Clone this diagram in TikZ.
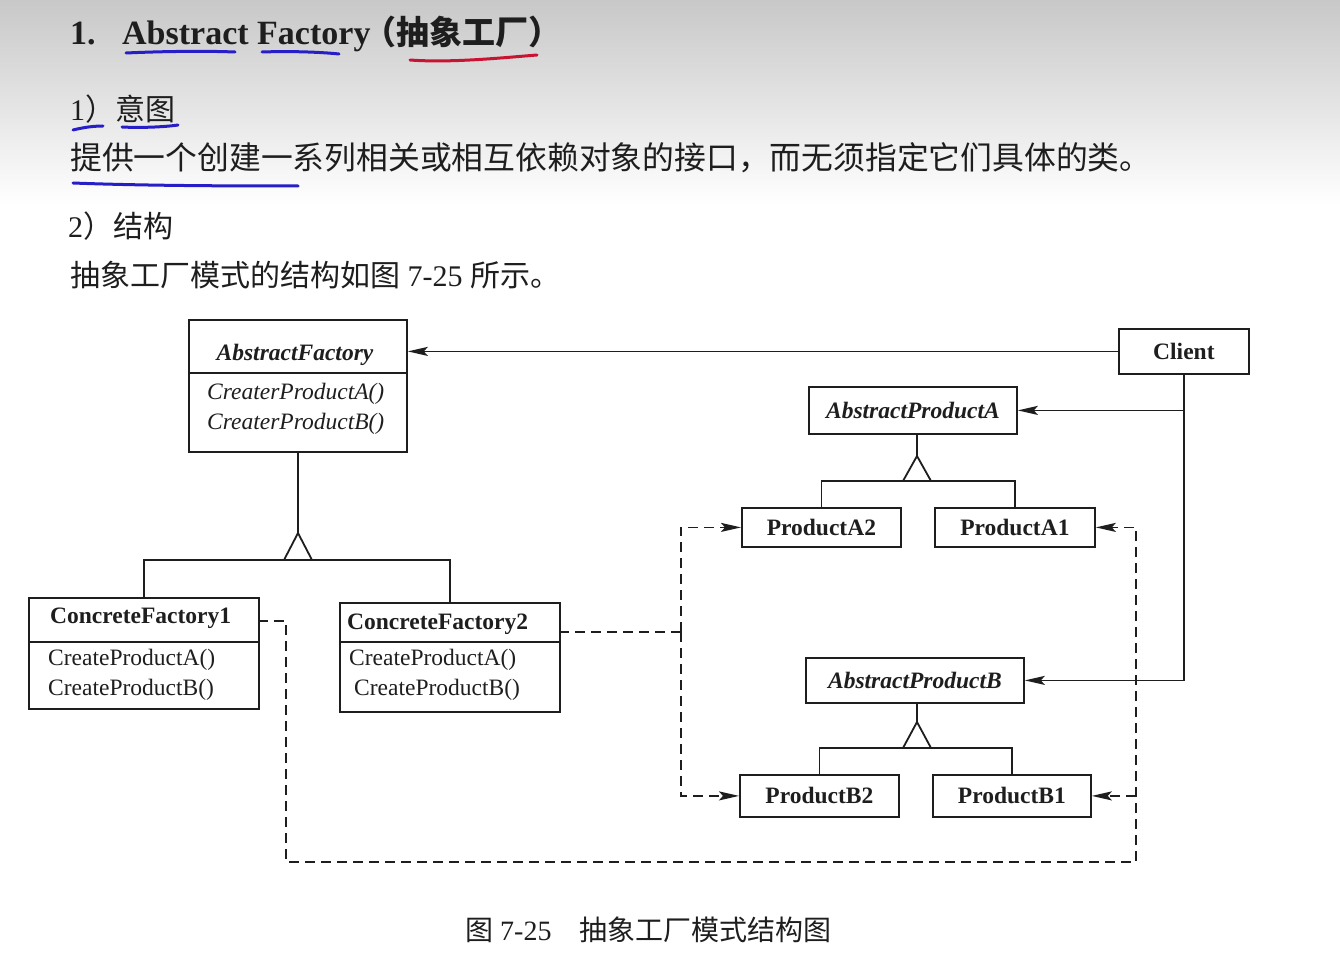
\documentclass[tikz,border=0pt]{standalone}
\usepackage{fontspec}
\setmainfont{Liberation Serif}
\newfontfamily\cjk{Noto Sans CJK SC}
\usetikzlibrary{arrows.meta}
\definecolor{penblue}{RGB}{40,30,200}
\definecolor{penred}{RGB}{200,20,50}
\definecolor{ink}{RGB}{30,30,30}
\tikzset{
  ln/.style={line width=1.8pt, draw=ink},
  dsh/.style={ln, dash pattern=on 10pt off 6pt},
  tip/.style={-{Stealth[length=20pt,width=9pt,inset=4pt]}},
  box/.style={draw=ink, line width=1.8pt, inner sep=0pt, anchor=north west, fill=white, text=ink},
  bt/.style={font=\fontsize{23.5}{26}\selectfont\bfseries},
  bit/.style={font=\fontsize{23.5}{26}\selectfont\bfseries\itshape, text=ink},
  itx/.style={font=\fontsize{23.5}{26}\selectfont\itshape, anchor=base west, inner sep=0pt, text=ink},
  rmx/.style={font=\fontsize{23.5}{26}\selectfont, anchor=base west, inner sep=0pt, text=ink},
  bodytxt/.style={anchor=base west, inner sep=0pt, text=ink},
  hand/.style={line width=3pt, line cap=round},
}
\begin{document}
\begin{tikzpicture}[x=1pt,y=-1pt]
\useasboundingbox (0,0) rectangle (1340,976);
\fill[white] (0,0) rectangle (1340,976);
\shade[top color={rgb,255:red,200;green,200;blue,200}, bottom color=white] (0,0) rectangle (1340,205);

% ---- header text ----
\node[bodytxt, font=\fontsize{34}{38}\selectfont\bfseries] (t1) at (70,45) {1.};
\node[bodytxt, font=\fontsize{34}{38}\selectfont\bfseries] (t2) at (122,45) {Abstract Factory};
\node[bodytxt, font=\fontsize{33}{38}\selectfont\cjk\bfseries] (t3) at (363,45) {（抽象工厂）};
\node[bodytxt, font=\fontsize{30}{34}\selectfont] (s1) at (70,121) {1{\cjk ）意图}};
\node[bodytxt, font=\fontsize{31.8}{34}\selectfont\cjk] (s1t) at (70,170) {提供一个创建一系列相关或相互依赖对象的接口，而无须指定它们具体的类。};
\node[bodytxt, font=\fontsize{30}{34}\selectfont] (s2) at (68,238) {2{\cjk ）结构}};
\node[bodytxt, font=\fontsize{30}{34}\selectfont] (s2t) at (70,286) {{\cjk 抽象工厂模式的结构如图}~7-25~{\cjk 所示。}};
\node[bodytxt, font=\fontsize{28}{32}\selectfont] (cap) at (465,940) {{\cjk 图}~7-25\hspace{28pt}{\cjk 抽象工厂模式结构图}};

% ---- hand annotations ----
\draw[hand, penblue] (126,53) .. controls (170,51) and (210,51) .. (235,52);
\draw[hand, penblue] (262,52) .. controls (290,51) and (320,52) .. (339,54);
\draw[hand, penred] (410,60) .. controls (450,63) and (500,58) .. (537,55);
\draw[hand, penblue] (73,130) .. controls (85,127) and (95,126) .. (103,126);
\draw[hand, penblue] (122,127) .. controls (140,128) and (165,127) .. (178,125);
\draw[hand, penblue] (73,183) .. controls (150,186) and (250,186) .. (298,186);

% ---- boxes ----
\node[box, minimum width=218pt, minimum height=132pt] (af) at (188,319) {};
\node[box, bt, minimum width=130pt, minimum height=45pt] (client) at (1118,328) {Client};
\node[box, bit, minimum width=208pt, minimum height=47pt] (apa) at (808,386) {AbstractProductA};
\node[box, bt, minimum width=159pt, minimum height=39pt] (pa2) at (741,507) {ProductA2};
\node[box, bt, minimum width=160pt, minimum height=39pt] (pa1) at (934,507) {ProductA1};
\node[box, minimum width=230pt, minimum height=111pt] (cf1) at (28,597) {};
\node[box, minimum width=220pt, minimum height=109pt] (cf2) at (339,602) {};
\node[box, bit, minimum width=218pt, minimum height=45pt] (apb) at (805,657) {AbstractProductB};
\node[box, bt, minimum width=159pt, minimum height=42pt] (pb2) at (739,774) {ProductB2};
\node[box, bt, minimum width=158pt, minimum height=42pt] (pb1) at (932,774) {ProductB1};

% compartments
\draw[ln] (188,373) -- (406,373);
\draw[ln] (28,642) -- (258,642);
\draw[ln] (339,642) -- (559,642);

% class texts
\node[bit, anchor=base, inner sep=0pt] (aft) at (295,360) {AbstractFactory};
\node[itx] (afa) at (207,399) {CreaterProductA()};
\node[itx] (afb) at (207,429) {CreaterProductB()};
\node[bt, anchor=base west, inner sep=0pt, text=ink] (cf1t) at (50,623) {ConcreteFactory1};
\node[rmx] (cf1a) at (48,665) {CreateProductA()};
\node[rmx] (cf1b) at (48,695) {CreateProductB()};
\node[bt, anchor=base west, inner sep=0pt, text=ink] (cf2t) at (347,629) {ConcreteFactory2};
\node[rmx] (cf2a) at (349,665) {CreateProductA()};
\node[rmx] (cf2b) at (354,695) {CreateProductB()};

% ---- client associations ----
\draw[ln, tip] (client.west) -- (af.east |- client.west);
\draw[ln, tip] (client.south) -- (client.south |- apb.east) -- (apb.east);
\draw[ln, tip] (client.south |- apa.east) -- (apa.east);

% ---- inheritance: AbstractFactory ----
\coordinate (afap) at (298,533);
\coordinate (afbase) at (298,560);
\draw[ln] (afap |- af.south) -- (afap);
\draw[ln, line join=miter] (afap) -- ++(-14,27) -- ++(28,0) -- cycle;
\draw[ln] (cf1.north) -- (cf1.north |- afbase) -- (cf2.north |- afbase) -- (cf2.north);

% ---- inheritance: AbstractProductA ----
\coordinate (apaap) at (917,456);
\coordinate (apabase) at (917,481);
\draw[ln] (apaap |- apa.south) -- (apaap);
\draw[ln, line join=miter] (apaap) -- ++(-14,25) -- ++(28,0) -- cycle;
\draw[ln] (pa2.north) -- (pa2.north |- apabase) -- (pa1.north |- apabase) -- (pa1.north);

% ---- inheritance: AbstractProductB ----
\coordinate (apbap) at (917,722);
\coordinate (apbbase) at (917,748);
\draw[ln] (apbap |- apb.south) -- (apbap);
\draw[ln, line join=miter] (apbap) -- ++(-14,26) -- ++(28,0) -- cycle;
\draw[ln] (pb2.north) -- (pb2.north |- apbbase) -- (pb1.north |- apbbase) -- (pb1.north);

% ---- dashed dependencies ----
\coordinate (cf1o) at (258,621);
\coordinate (lr) at (286,862);
\coordinate (rr) at (1136,862);
\draw[dsh, tip] (cf1o) -- (lr |- cf1o) -- (lr) -- (rr) -- (rr |- pa1.east) -- (pa1.east);
\draw[dsh, tip] (rr |- pb1.east) -- (pb1.east);
\coordinate (cf2o) at (559,632);
\coordinate (lv) at (681,632);
\draw[dsh] (cf2o) -- (lv);
\draw[dsh, tip] (lv) -- (lv |- pa2.west) -- (pa2.west);
\draw[dsh, tip] (lv) -- (lv |- pb2.west) -- (pb2.west);
\end{tikzpicture}
\end{document}
